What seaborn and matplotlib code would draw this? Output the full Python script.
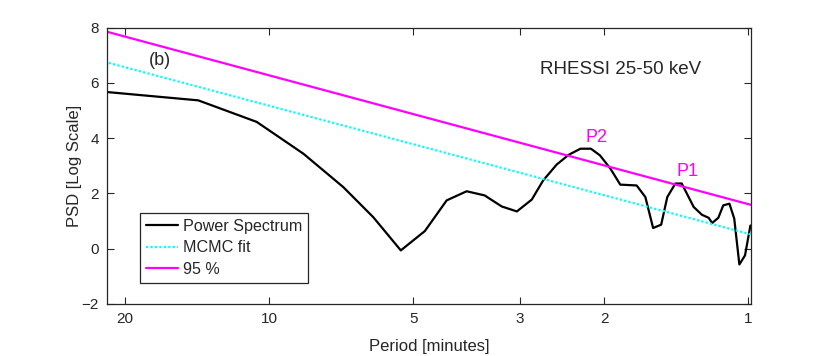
"""PSD of RHESSI 25-50 keV light curve with MCMC fit and 95 % level."""

import numpy as np
import pandas as pd
import matplotlib
matplotlib.use("Agg")
import matplotlib.pyplot as plt
import seaborn as sns

# period in minutes, PSD in log scale
period = [21.75, 14.05, 10.61, 8.48, 7.0, 6.06, 5.31, 4.73, 4.26, 3.87, 3.55,
          3.27, 3.04, 2.83, 2.68, 2.51, 2.37, 2.24, 2.13, 2.04, 1.94, 1.85,
          1.71, 1.64, 1.58, 1.52, 1.476, 1.42, 1.377, 1.30, 1.25, 1.21, 1.19,
          1.155, 1.128, 1.095, 1.07, 1.044, 1.016, 0.99]
power = [5.67, 5.37, 4.59, 3.44, 2.23, 1.14, -0.06, 0.64, 1.75, 2.08, 1.93,
         1.53, 1.35, 1.78, 2.47, 3.05, 3.40, 3.62, 3.62, 3.38, 2.90, 2.32,
         2.29, 1.87, 0.75, 0.87, 1.87, 2.36, 2.36, 1.51, 1.23, 1.12, 0.93,
         1.12, 1.57, 1.63, 1.09, -0.57, -0.24, 0.84]

fit_period = [21.75, 0.9885]
mcmc_fit = [6.74, 0.52]
level_95 = [7.85, 1.59]

xticks = [20, 10, 5, 3, 2, 1]
yticks = [-2, 0, 2, 4, 6, 8]

sns.set_style("white")
plt.rcParams["font.family"] = ["Liberation Sans", "DejaVu Sans"]

fig = plt.figure(figsize=(8.3, 3.56), dpi=100)
ax = fig.add_axes([0.1293, 0.1461, 0.9045 - 0.1293, 0.9222 - 0.1461])

spec = pd.DataFrame({"period": period, "psd": power})
fit = pd.DataFrame({"period": fit_period, "mcmc": mcmc_fit, "p95": level_95})

sns.lineplot(data=spec, x="period", y="psd", ax=ax, color="black", lw=1.6,
             estimator=None, label="Power Spectrum")
sns.lineplot(data=fit, x="period", y="mcmc", ax=ax, color="#00FFFF", lw=1.6,
             linestyle=(0, (1, 1)), estimator=None, label="MCMC fit")
sns.lineplot(data=fit, x="period", y="p95", ax=ax, color="#FF00FF", lw=1.6,
             estimator=None, label="95 %")

ax.set_xscale("log")
ax.set_xlim(21.75, 0.9885)
ax.set_ylim(-2, 8)
ax.set_xticks(xticks)
ax.set_xticklabels([str(t) for t in xticks])
ax.xaxis.set_minor_locator(matplotlib.ticker.NullLocator())
ax.set_yticks(yticks)
ax.tick_params(direction="in", length=5, width=0.8, colors="#262626",
               labelsize=11, top=True, right=True, bottom=True, left=True,
               labelcolor="#262626", pad=6)
for s in ax.spines.values():
    s.set_color("#262626")
    s.set_linewidth(0.9)

ax.set_xlabel("Period [minutes]", fontsize=12, color="#262626", labelpad=9)
ax.set_ylabel("PSD [Log Scale]", fontsize=12, color="#262626", labelpad=0)

ax.text(0.065, 0.883, "(b)", transform=ax.transAxes, fontsize=13,
        ha="left", va="center")
ax.text(0.798, 0.847, "RHESSI 25-50 keV", transform=ax.transAxes,
        fontsize=13.5, ha="center", va="center")
ax.text(2.07, 4.03, "P2", fontsize=13, color="#FF00FF", ha="center", va="center")
ax.text(1.342, 2.81, "P1", fontsize=13, color="#FF00FF", ha="center", va="center")

leg = ax.legend(loc="lower left", bbox_to_anchor=(0.051, 0.077),
                borderaxespad=0, fontsize=11.6, frameon=True, fancybox=False,
                framealpha=1, edgecolor="#262626", handlelength=2.0,
                handletextpad=0.3, labelspacing=0.42, borderpad=0.35)
leg.get_frame().set_linewidth(0.9)

fig.savefig("out.png", dpi=100)
